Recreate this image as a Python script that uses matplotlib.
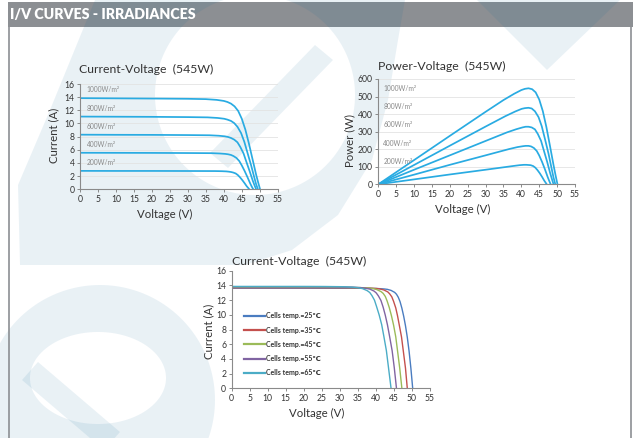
import numpy as np
import matplotlib
matplotlib.use('Agg')
import matplotlib.pyplot as plt
from matplotlib.path import Path
from matplotlib.patches import PathPatch, Polygon, Rectangle

# ---- data ----
irr_labels = ['1000W/m²', '800W/m²', '600W/m²', '400W/m²', '200W/m²']

v_1000 = [0, 10, 20, 30, 35, 38, 40, 41, 42, 43, 44, 45, 46, 47, 48, 49, 49.6, 50.1]
i_1000 = [13.85, 13.82, 13.79, 13.75, 13.70, 13.59, 13.43, 13.27, 13.02, 12.60, 11.91, 10.73, 9.07, 6.93, 4.57, 2.22, 0.97, 0]
p_1000 = [0, 138, 276, 413, 480, 516, 537, 544, 547, 542, 524, 483, 417, 326, 219, 109, 48, 0]

v_800 = [0, 10, 20, 30, 35.5, 38.3, 40.1, 41.0, 42.0, 42.9, 43.8, 44.8, 45.7, 46.6, 47.6, 48.5, 49.0, 49.5]
i_800 = [11.05, 11.03, 11.01, 10.97, 10.93, 10.84, 10.72, 10.59, 10.39, 10.06, 9.50, 8.56, 7.24, 5.53, 3.65, 1.77, 0.77, 0]
p_800 = [0, 110, 220, 329, 388, 415, 430, 434, 436, 432, 416, 383, 331, 258, 174, 86, 38, 0]

v_600 = [0, 10, 20, 30, 36.0, 38.6, 40.3, 41.2, 42.0, 42.9, 43.8, 44.6, 45.5, 46.3, 47.2, 48.05, 48.57, 49.0]
i_600 = [8.30, 8.28, 8.27, 8.24, 8.21, 8.14, 8.05, 7.95, 7.80, 7.55, 7.14, 6.43, 5.44, 4.15, 2.74, 1.33, 0.58, 0]
p_600 = [0, 83, 165, 247, 296, 314, 324, 328, 328, 324, 313, 287, 248, 192, 129, 64, 28, 0]

v_400 = [0, 10, 20, 30, 36.6, 38.9, 40.4, 41.2, 42.0, 42.7, 43.5, 44.3, 45.0, 45.8, 46.6, 47.35, 47.8, 48.2]
i_400 = [5.55, 5.54, 5.53, 5.51, 5.49, 5.44, 5.38, 5.32, 5.22, 5.05, 4.77, 4.30, 3.64, 2.78, 1.83, 0.89, 0.39, 0]
p_400 = [0, 55, 111, 165, 201, 212, 217, 219, 219, 216, 207, 190, 164, 127, 85, 42, 19, 0]

v_200 = [0, 10, 20, 30, 37.6, 39.5, 40.7, 41.4, 42.0, 42.6, 43.3, 43.9, 44.5, 45.15, 45.8, 46.4, 46.8, 47.1]
i_200 = [2.80, 2.79, 2.79, 2.78, 2.77, 2.75, 2.72, 2.68, 2.63, 2.55, 2.41, 2.17, 1.83, 1.40, 0.92, 0.45, 0.20, 0]
p_200 = [0, 28, 56, 83, 104, 109, 111, 111, 110, 109, 104, 95, 81, 63, 42, 21, 9, 0]

irr_v = [v_1000, v_800, v_600, v_400, v_200]
irr_i = [i_1000, i_800, i_600, i_400, i_200]
irr_p = [p_1000, p_800, p_600, p_400, p_200]

temp_labels = ['Cells temp.=25℃', 'Cells temp.=35℃', 'Cells temp.=45℃',
               'Cells temp.=55℃', 'Cells temp.=65℃']
v_25 = [0, 20, 36.2, 40.2, 42.2, 43.2, 44.2, 45.2, 45.7, 46.2, 46.7, 47.2, 47.7, 48.2, 48.7, 49.2, 49.7, 50.2]
i_25 = [13.62, 13.62, 13.61, 13.58, 13.52, 13.46, 13.32, 13.05, 12.80, 12.39, 11.78, 10.90, 9.81, 8.51, 6.95, 5.04, 2.72, 0]
v_35 = [0, 20, 33.6, 37.9, 40.1, 41.1, 42.2, 43.3, 43.8, 44.4, 44.9, 45.5, 46.0, 46.5, 47.1, 47.6, 48.2, 48.7]
i_35 = [13.68, 13.68, 13.67, 13.64, 13.58, 13.52, 13.38, 13.11, 12.86, 12.45, 11.83, 10.94, 9.85, 8.55, 6.98, 5.06, 2.74, 0]
v_45 = [0, 20, 31.0, 35.6, 37.9, 39.1, 40.2, 41.4, 42.0, 42.6, 43.1, 43.7, 44.3, 44.9, 45.5, 46.0, 46.6, 47.2]
i_45 = [13.74, 13.74, 13.73, 13.70, 13.64, 13.58, 13.44, 13.16, 12.92, 12.50, 11.89, 10.99, 9.89, 8.59, 7.01, 5.08, 2.75, 0]
v_55 = [0, 20, 28.3, 33.3, 35.8, 37.0, 38.3, 39.5, 40.1, 40.7, 41.4, 42.0, 42.6, 43.2, 43.8, 44.5, 45.1, 45.7]
i_55 = [13.80, 13.80, 13.79, 13.76, 13.70, 13.63, 13.50, 13.22, 12.97, 12.56, 11.94, 11.04, 9.94, 8.63, 7.04, 5.11, 2.76, 0]
v_65 = [0, 20, 25.7, 31.0, 33.6, 35.0, 36.3, 37.6, 38.3, 38.9, 39.6, 40.2, 40.9, 41.6, 42.2, 42.9, 43.5, 44.2]
i_65 = [13.86, 13.86, 13.85, 13.82, 13.76, 13.69, 13.56, 13.28, 13.03, 12.61, 11.99, 11.09, 9.98, 8.66, 7.07, 5.13, 2.77, 0]
temp_v = [v_25, v_35, v_45, v_55, v_65]
temp_i = [i_25, i_35, i_45, i_55, i_65]
temp_colors = ['#4a7cc0', '#c4504d', '#9bbb59', '#8064a2', '#4bacc6']

# where the irradiance tags sit on the power chart
pv_tag_y = [547, 442, 338, 231, 129]

FONT = ['Lato', 'DejaVu Sans']
plt.rcParams['font.family'] = FONT
LINE = '#29abe2'
TXT = '#333333'
GRAY = '#8c8f93'

W, H = 633, 438
fig = plt.figure(figsize=(W / 100, H / 100), dpi=100)
fig.patch.set_facecolor('white')

# background canvas in pixel coordinates
bg = fig.add_axes([0, 0, 1, 1])
bg.set_xlim(0, W)
bg.set_ylim(H, 0)
bg.axis('off')

bg.add_patch(Rectangle((8, 2), W - 8, 25, fc=GRAY, ec='none', zorder=1))
bg.plot([8.5, 8.5], [27, H], color=GRAY, lw=1.2, zorder=3)
bg.plot([631, 631], [27, H], color=GRAY, lw=1.2, zorder=3)

# faint logo watermark
WM = dict(fc='#006496', ec='none', alpha=0.085, zorder=2)
t = np.linspace(0, 2 * np.pi, 180)


def shape_with_hole(outer, cx, cy, a, b):
    hole = np.c_[cx + a * np.cos(t[::-1]), cy + b * np.sin(t[::-1])]
    verts = np.vstack([outer, outer[:1], hole])
    codes = ([Path.MOVETO] + [Path.LINETO] * (len(outer) - 1) + [Path.CLOSEPOLY]
             + [Path.MOVETO] + [Path.LINETO] * (len(hole) - 1))
    return PathPatch(Path(verts, codes), **WM)


upper = np.array([(95, 0), (405, 0), (398, 40), (388, 100), (372, 160), (338, 215),
                  (292, 250), (245, 265), (20, 265), (18, 185), (50, 110)])
bg.add_patch(shape_with_hole(upper, 255, 95, 100, 100))
bg.add_patch(Polygon([(315, 45), (333, 60), (228, 168), (210, 153)], **WM))
bg.add_patch(Polygon([(477, 0), (620, 0), (547, 70)], **WM))
lower = np.c_[100 + 115 * np.cos(t), 400 + 115 * np.sin(t)]
bg.add_patch(shape_with_hole(lower, 98, 378, 68, 46))
bg.add_patch(Polygon([(22, 380), (38, 362), (120, 432), (104, 450)], **WM))

bg.text(10, 15, 'I/V CURVES - IRRADIANCES', color='white', fontsize=10.2,
        fontweight='heavy', va='center', ha='left', zorder=4)


def frame(ax, ymax, ystep, grid, xlab_y, ylab, ylab_xy):
    ax.set_facecolor('none')
    ax.set_xlim(0, 55)
    ax.set_ylim(0, ymax)
    ax.set_xticks(np.arange(0, 56, 5))
    ax.set_yticks(np.arange(0, ymax + 1, ystep))
    for s in ['top', 'right']:
        ax.spines[s].set_visible(False)
    for s in ['left', 'bottom']:
        ax.spines[s].set_color('#8a8a8a')
        ax.spines[s].set_linewidth(0.8)
    ax.tick_params(labelsize=6.2, colors='#8a8a8a', labelcolor=TXT, length=2.5,
                   width=0.7, pad=1.5)
    if grid:
        for y in np.arange(ystep, ymax + 1, ystep):
            ax.axhline(y, color='#e3e3e3', lw=0.6, zorder=0)
    ax.set_xlabel('Voltage (V)', fontsize=8.2, color=TXT)
    ax.xaxis.set_label_coords(0.43, xlab_y)
    ax.set_ylabel(ylab, fontsize=8.2, color=TXT)
    ax.yaxis.set_label_coords(*ylab_xy)


# chart 1: current vs voltage for irradiances
ax1 = fig.add_axes([80 / W, 1 - 189.3 / H, 197.7 / W, 105.3 / H])
frame(ax1, 16, 2, True, -0.182, 'Current (A)', (-0.106, 0.516))
for v, i, lab in zip(irr_v, irr_i, irr_labels):
    ax1.plot(v, i, color=LINE, lw=1.25)
    ax1.text(1.9, i[0] + 1.25, lab, fontsize=4.8, color='#8a8a8a', va='center')
bg.text(79, 69, 'Current-Voltage  (545W)', fontsize=8.8, color=TXT, va='center')

# chart 2: power vs voltage for irradiances
ax2 = fig.add_axes([378.3 / W, 1 - 184.3 / H, 196.7 / W, 105.3 / H])
frame(ax2, 600, 100, True, -0.182, 'Power (W)', (-0.118, 0.42))
for v, p, lab, ty in zip(irr_v, irr_p, irr_labels, pv_tag_y):
    ax2.plot(v, p, color=LINE, lw=1.25)
    ax2.text(1.4, ty, lab, fontsize=4.8, color='#8a8a8a', va='center')
bg.text(378, 66.5, 'Power-Voltage  (545W)', fontsize=8.8, color=TXT, va='center')

# chart 3: current vs voltage for cell temperatures
ax3 = fig.add_axes([231.7 / W, 1 - 388.3 / H, 198.3 / W, 117.6 / H])
frame(ax3, 16, 2, False, -0.166, 'Current (A)', (-0.089, 0.487))
for v, i, lab, c in zip(temp_v, temp_i, temp_labels, temp_colors):
    ax3.plot(v, i, color=c, lw=1.0, label=lab)
leg = ax3.legend(loc='upper left', bbox_to_anchor=(0.05, 0.67), frameon=False,
                 fontsize=5.0, handlelength=2.9, handletextpad=0.2,
                 labelspacing=1.05, borderaxespad=0)
for h in leg.get_lines():
    h.set_linewidth(1.6)
for tx in leg.get_texts():
    tx.set_color(TXT)
    tx.set_fontweight('bold')
bg.text(232, 261, 'Current-Voltage  (545W)', fontsize=8.8, color=TXT, va='center')

fig.savefig('out.png', dpi=100, facecolor='white')
